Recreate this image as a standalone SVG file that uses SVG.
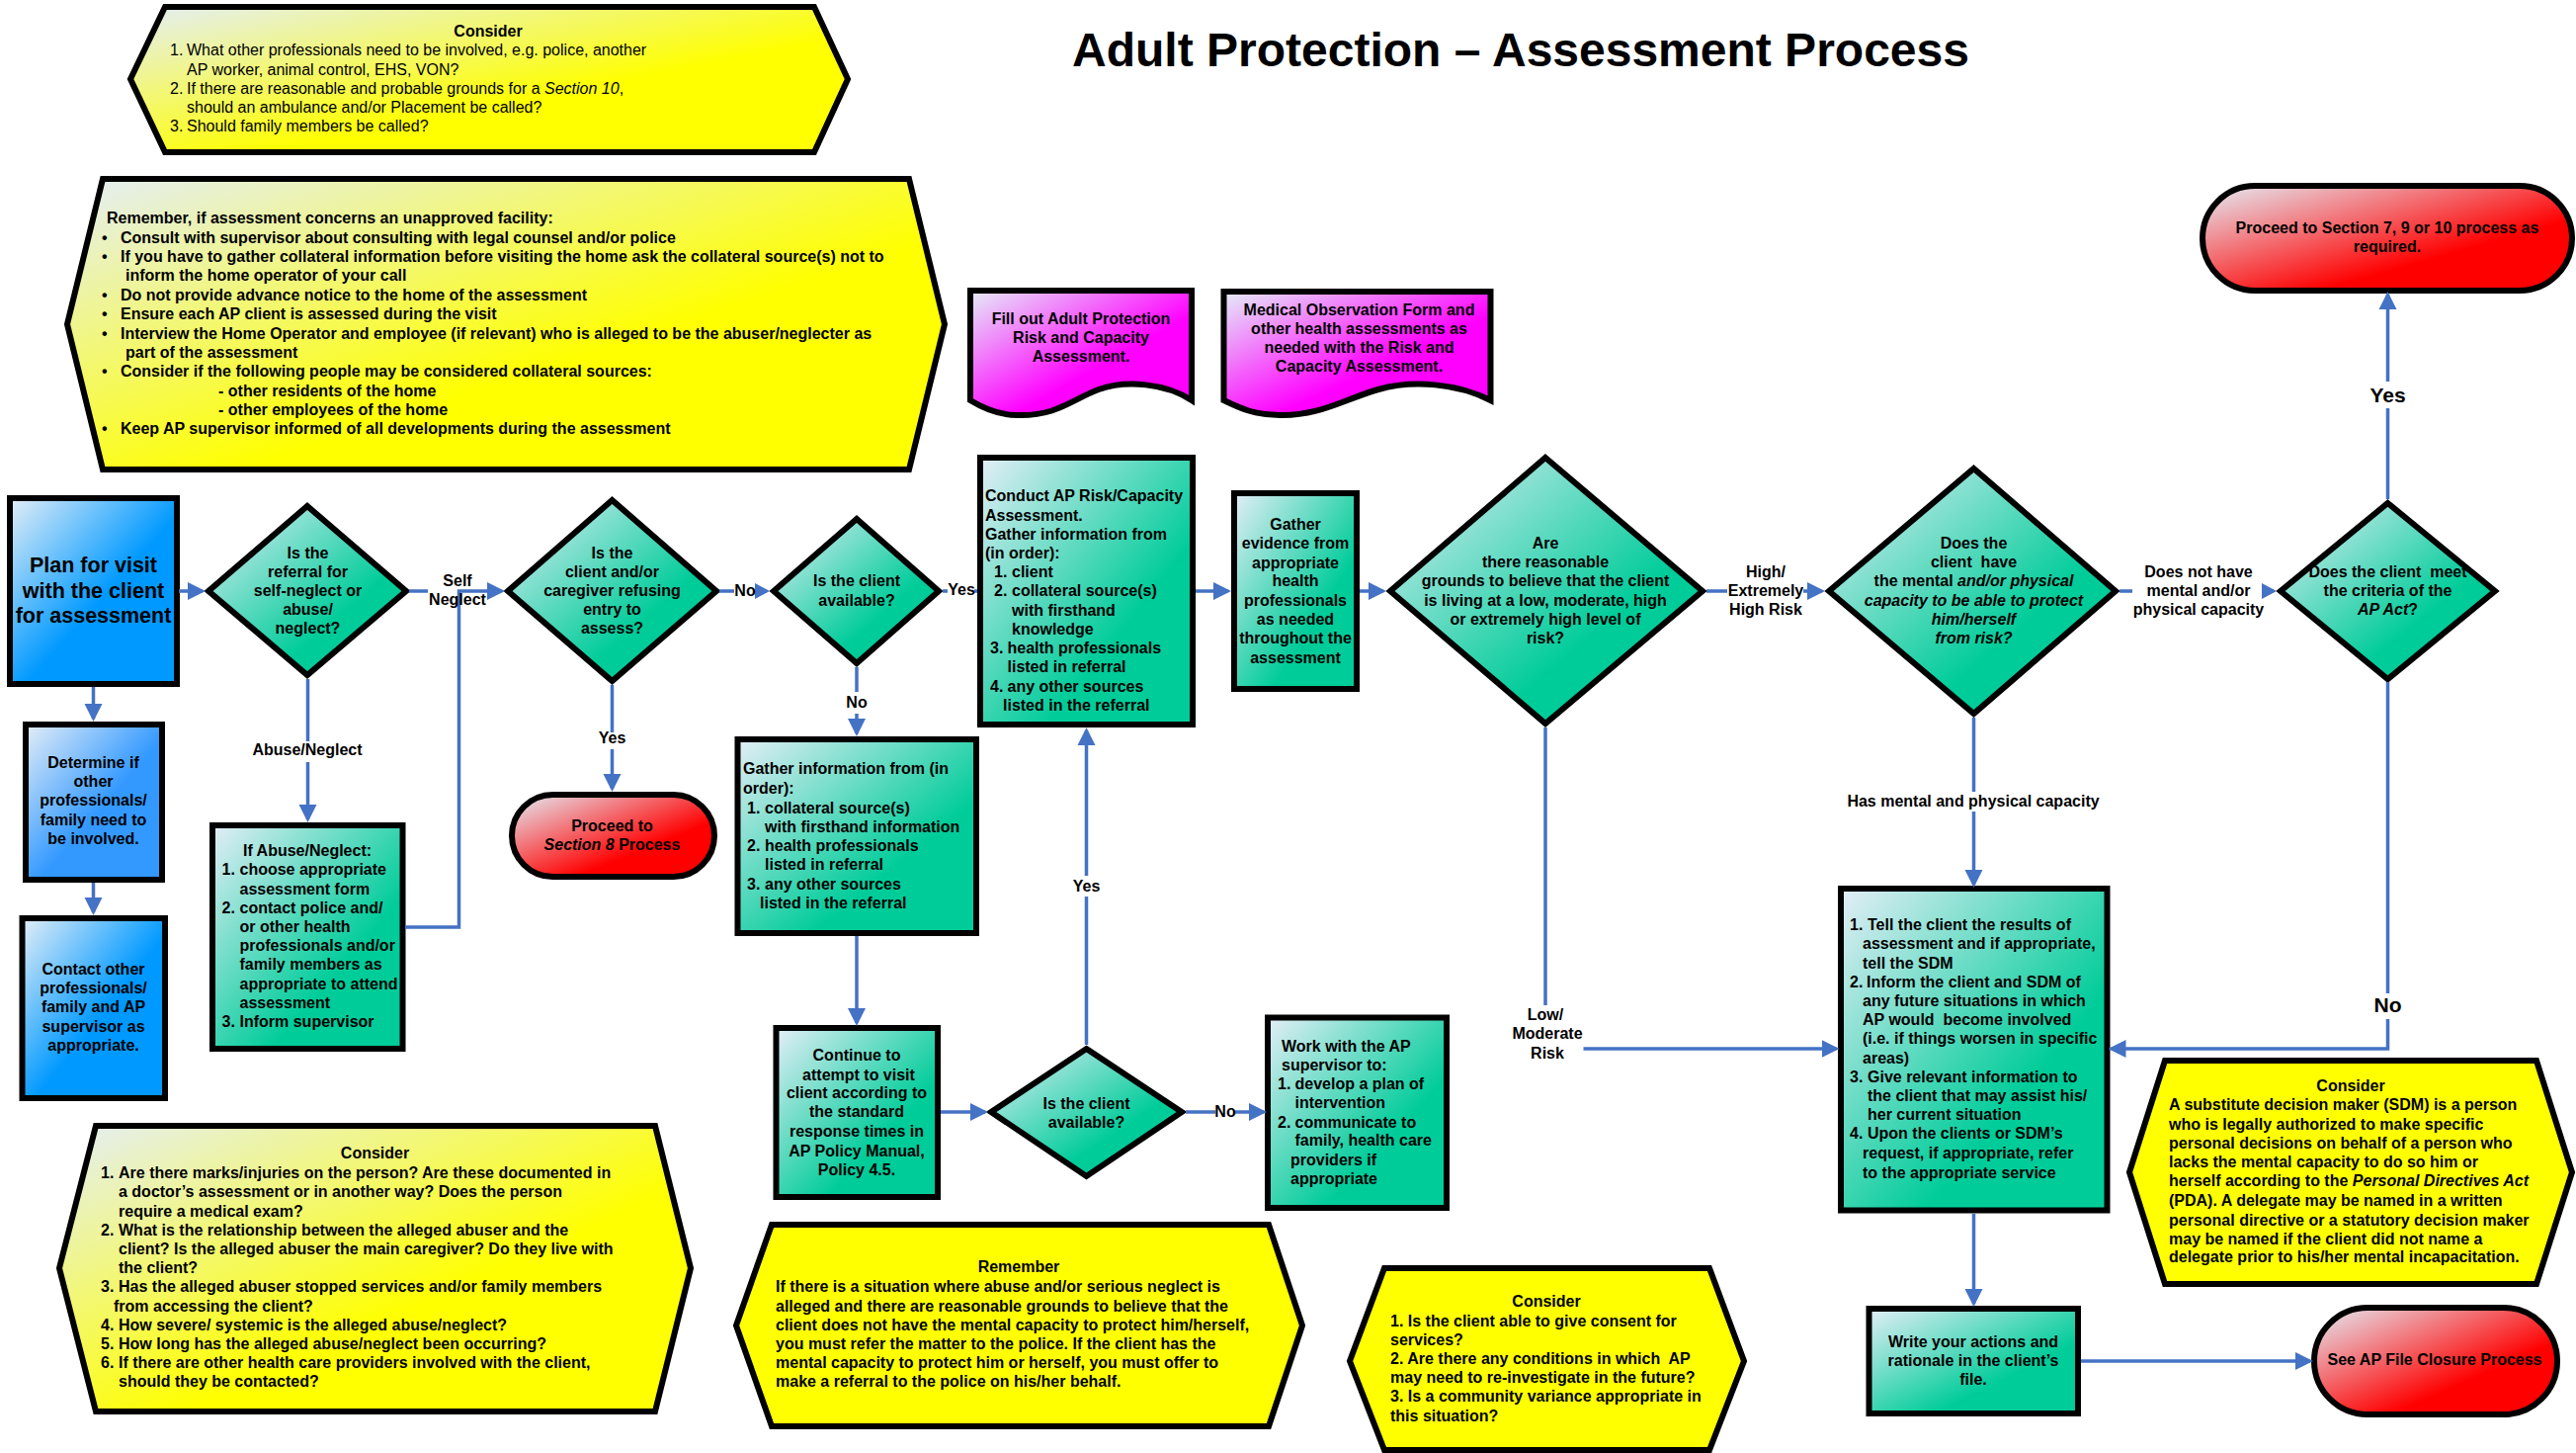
<svg xmlns="http://www.w3.org/2000/svg" width="2607" height="1470" viewBox="0 0 2607 1470">
<style>
text{font-family:"Liberation Sans",Arial,sans-serif;font-size:16px;font-weight:700;fill:#000;white-space:pre}
.c{text-anchor:middle}
.r{font-weight:400}
.b{font-weight:700}
.i{font-style:italic}
.big{font-size:21px}
.plan{font-size:21.5px}
.title{font-size:48px}
.s{stroke:#000;stroke-width:6;stroke-linejoin:miter}
.con{fill:none;stroke:#4472C4;stroke-width:3.5}
.a{marker-end:url(#arrow)}
.a2{marker-end:url(#arrowS)}
</style>
<defs>
<marker id="arrow" markerUnits="userSpaceOnUse" markerWidth="18" markerHeight="20" refX="15" refY="10" orient="auto"><path d="M0,1 L18,10 L0,19 Z" fill="#4472C4"/></marker>
<marker id="arrowS" markerUnits="userSpaceOnUse" markerWidth="15" markerHeight="18" refX="12" refY="9" orient="auto"><path d="M0,1 L15,9 L0,17 Z" fill="#4472C4"/></marker>
<linearGradient id="gT" x1="0" y1="0" x2="1" y2="1"><stop offset="0" stop-color="#E4EEF7"/><stop offset="0.66" stop-color="#00CC99"/></linearGradient>
<linearGradient id="gB" x1="0" y1="0" x2="1" y2="1"><stop offset="0" stop-color="#E4EEF7"/><stop offset="0.55" stop-color="#0099FF"/></linearGradient>
<linearGradient id="gB2" x1="0" y1="0" x2="1" y2="1"><stop offset="0" stop-color="#E4EEF7"/><stop offset="0.55" stop-color="#3399FF"/></linearGradient>
<linearGradient id="gR" x1="0" y1="0" x2="1" y2="1"><stop offset="0" stop-color="#E4EEF7"/><stop offset="0.66" stop-color="#FF0000"/></linearGradient>
<linearGradient id="gM" x1="0" y1="0" x2="1" y2="1"><stop offset="0" stop-color="#E4EEF7"/><stop offset="0.6" stop-color="#FF00FF"/></linearGradient>
<linearGradient id="gY" x1="0" y1="0" x2="1" y2="1"><stop offset="0" stop-color="#E4EEF7"/><stop offset="0.6" stop-color="#FFFF00"/></linearGradient>
</defs>
<rect width="2607" height="1470" fill="#fff"/>
<text id="title" class="c title" x="1539" y="67">Adult Protection – Assessment Process</text>

<g id="hex-consider-top">
<polygon class="s" fill="url(#gY)" points="167,7 824,7 858,80 824,154 167,154 132,80"/>
<text class="c" x="494" y="37">Consider</text>
<text class="r"><tspan x="172" y="56">1.</tspan><tspan x="189" y="56">What other professionals need to be involved, e.g. police, another</tspan><tspan x="189" y="76">AP worker, animal control, EHS, VON?</tspan><tspan x="172" y="95">2.</tspan><tspan x="189" y="95">If there are reasonable and probable grounds for a <tspan class="i">Section 10</tspan>,</tspan><tspan x="189" y="114">should an ambulance and/or Placement be called?</tspan><tspan x="172" y="133">3.</tspan><tspan x="189" y="133">Should family members be called?</tspan></text>
</g>

<g id="hex-remember-facility">
<polygon class="s" fill="url(#gY)" points="104,181 920,181 956,328 920,475 104,475 68,328"/>
<text><tspan x="108" y="226">Remember, if assessment concerns an unapproved facility:</tspan><tspan x="103" y="246">•</tspan><tspan x="122" y="246">Consult with supervisor about consulting with legal counsel and/or police</tspan><tspan x="103" y="265">•</tspan><tspan x="122" y="265">If you have to gather collateral information before visiting the home ask the collateral source(s) not to</tspan><tspan x="127" y="284">inform the home operator of your call</tspan><tspan x="103" y="304">•</tspan><tspan x="122" y="304">Do not provide advance notice to the home of the assessment</tspan><tspan x="103" y="323">•</tspan><tspan x="122" y="323">Ensure each AP client is assessed during the visit</tspan><tspan x="103" y="343">•</tspan><tspan x="122" y="343">Interview the Home Operator and employee (if relevant) who is alleged to be the abuser/neglecter as</tspan><tspan x="127" y="362">part of the assessment</tspan><tspan x="103" y="381">•</tspan><tspan x="122" y="381">Consider if the following people may be considered collateral sources:</tspan><tspan x="221" y="401">- other residents of the home</tspan><tspan x="221" y="420">- other employees of the home</tspan><tspan x="103" y="439">•</tspan><tspan x="122" y="439">Keep AP supervisor informed of all developments during the assessment</tspan></text>
</g>

<g id="plan">
<rect class="s" fill="url(#gB)" x="10" y="504" width="169" height="188"/>
<text class="c plan"><tspan x="94.5" y="579">Plan for visit</tspan><tspan x="94.5" y="605">with the client</tspan><tspan x="94.5" y="630">for assessment</tspan></text>
</g>
<g id="determine">
<rect class="s" fill="url(#gB2)" x="26" y="733" width="138" height="157"/>
<text class="c"><tspan x="94.5" y="777">Determine if</tspan><tspan x="94.5" y="796">other</tspan><tspan x="94.5" y="815">professionals/</tspan><tspan x="94.5" y="835">family need to</tspan><tspan x="94.5" y="854">be involved.</tspan></text>
</g>
<g id="contact">
<rect class="s" fill="url(#gB)" x="22.5" y="929" width="144.5" height="182"/>
<text class="c"><tspan x="94.5" y="986">Contact other</tspan><tspan x="94.5" y="1005">professionals/</tspan><tspan x="94.5" y="1024">family and AP</tspan><tspan x="94.5" y="1044">supervisor as</tspan><tspan x="94.5" y="1063">appropriate.</tspan></text>
</g>
<g id="d-referral">
<polygon class="s" fill="url(#gT)" points="311,512 411,598 311,683 211,598"/>
<text class="c"><tspan x="311.5" y="565">Is the</tspan><tspan x="311.5" y="584">referral for</tspan><tspan x="311.5" y="603">self-neglect or</tspan><tspan x="311.5" y="622">abuse/</tspan><tspan x="311.5" y="641">neglect?</tspan></text>
</g>
<g id="d-refusing">
<polygon class="s" fill="url(#gT)" points="619.5,506 725,598 619.5,689 514,598"/>
<text class="c"><tspan x="619.5" y="565">Is the</tspan><tspan x="619.5" y="584">client and/or</tspan><tspan x="619.5" y="603">caregiver refusing</tspan><tspan x="619.5" y="622">entry to</tspan><tspan x="619.5" y="641">assess?</tspan></text>
</g>
<g id="abuse">
<rect class="s" fill="url(#gT)" x="215" y="835" width="192.5" height="226"/>
<text><tspan class="c" x="311" y="866">If Abuse/Neglect:</tspan><tspan x="224.5" y="885">1.</tspan><tspan x="242.5" y="885">choose appropriate</tspan><tspan x="242.5" y="905">assessment form</tspan><tspan x="224.5" y="924">2.</tspan><tspan x="242.5" y="924">contact police and/</tspan><tspan x="242.5" y="943">or other health</tspan><tspan x="242.5" y="962">professionals and/or</tspan><tspan x="242.5" y="981">family members as</tspan><tspan x="242.5" y="1001">appropriate to attend</tspan><tspan x="242.5" y="1020">assessment</tspan><tspan x="224.5" y="1039">3.</tspan><tspan x="242.5" y="1039">Inform supervisor</tspan></text>
</g>
<g id="end-section8">
<rect class="s" fill="url(#gR)" x="518" y="804" width="205" height="83" rx="41.5"/>
<text class="c"><tspan x="619.5" y="841">Proceed to</tspan><tspan x="619.5" y="860"><tspan class="i">Section 8</tspan> Process</tspan></text>
</g>
<g id="d-available1">
<polygon class="s" fill="url(#gT)" points="867,525 950,598 867,671 783,598"/>
<text class="c"><tspan x="867" y="593">Is the client</tspan><tspan x="867" y="613">available?</tspan></text>
</g>
<g id="conduct">
<rect class="s" fill="url(#gT)" x="992" y="463" width="215" height="270"/>
<text><tspan x="997" y="507">Conduct AP Risk/Capacity</tspan><tspan x="997" y="527">Assessment.</tspan><tspan x="997" y="546">Gather information from</tspan><tspan x="997" y="565">(in order):</tspan><tspan x="1006" y="584">1.</tspan><tspan x="1024" y="584">client</tspan><tspan x="1006" y="603">2.</tspan><tspan x="1024" y="603">collateral source(s)</tspan><tspan x="1024" y="623">with firsthand</tspan><tspan x="1024" y="642">knowledge</tspan><tspan x="1002" y="661">3.</tspan><tspan x="1019.5" y="661">health professionals</tspan><tspan x="1019.5" y="680">listed in referral</tspan><tspan x="1002" y="700">4.</tspan><tspan x="1019.5" y="700">any other sources</tspan><tspan x="1015" y="719">listed in the referral</tspan></text>
</g>
<g id="gather-evidence">
<rect class="s" fill="url(#gT)" x="1249" y="499" width="124" height="198"/>
<text class="c"><tspan x="1311" y="536">Gather</tspan><tspan x="1311" y="555">evidence from</tspan><tspan x="1311" y="575">appropriate</tspan><tspan x="1311" y="593">health</tspan><tspan x="1311" y="613">professionals</tspan><tspan x="1311" y="632">as needed</tspan><tspan x="1311" y="651">throughout the</tspan><tspan x="1311" y="671">assessment</tspan></text>
</g>
<g id="gather-info">
<rect class="s" fill="url(#gT)" x="746.5" y="748" width="241.5" height="196"/>
<text><tspan x="752" y="783">Gather information from (in</tspan><tspan x="752" y="803">order):</tspan><tspan x="756" y="823">1.</tspan><tspan x="774" y="823">collateral source(s)</tspan><tspan x="774" y="842">with firsthand information</tspan><tspan x="756" y="861">2.</tspan><tspan x="774" y="861">health professionals</tspan><tspan x="774" y="880">listed in referral</tspan><tspan x="756" y="900">3.</tspan><tspan x="774" y="900">any other sources</tspan><tspan x="769" y="919">listed in the referral</tspan></text>
</g>
<g id="continue">
<rect class="s" fill="url(#gT)" x="785.5" y="1040" width="163.5" height="171"/>
<text class="c"><tspan x="867" y="1073">Continue to</tspan><tspan x="869" y="1092.5">attempt to visit</tspan><tspan x="867" y="1111">client according to</tspan><tspan x="867" y="1130">the standard</tspan><tspan x="867" y="1150">response times in</tspan><tspan x="867" y="1170">AP Policy Manual,</tspan><tspan x="867" y="1189">Policy 4.5.</tspan></text>
</g>
<g id="d-available2">
<polygon class="s" fill="url(#gT)" points="1099.5,1061 1196,1125 1099.5,1190 1003,1125"/>
<text class="c"><tspan x="1099.5" y="1122">Is the client</tspan><tspan x="1099.5" y="1141">available?</tspan></text>
</g>
<g id="work">
<rect class="s" fill="url(#gT)" x="1283" y="1029.5" width="181" height="192.5"/>
<text><tspan x="1297" y="1063.5">Work with the AP</tspan><tspan x="1297" y="1083">supervisor to:</tspan><tspan x="1293" y="1102">1.</tspan><tspan x="1310.5" y="1102">develop a plan of</tspan><tspan x="1310.5" y="1121">intervention</tspan><tspan x="1293" y="1140.5">2.</tspan><tspan x="1310.5" y="1140.5">communicate to</tspan><tspan x="1310.5" y="1159">family, health care</tspan><tspan x="1306" y="1179">providers if</tspan><tspan x="1306" y="1198">appropriate</tspan></text>
</g>
<g id="doc-fill">
<path class="s" fill="url(#gM)" d="M982,294 H1206 V405 C1180,388 1140,384 1112,394 C1085,404 1070,421 1030,420 C1010,420 995,413 982,405 Z"/>
<text class="c"><tspan x="1094" y="328">Fill out Adult Protection</tspan><tspan x="1094" y="347">Risk and Capacity</tspan><tspan x="1094" y="366">Assessment.</tspan></text>
</g>
<g id="doc-medical">
<path class="s" fill="url(#gM)" d="M1238.5,295 H1508.5 V405 C1475,388 1430,384 1395,394 C1360,404 1335,421 1295,420 C1270,420 1255,413 1238.5,405 Z"/>
<text class="c"><tspan x="1375.5" y="319">Medical Observation Form and</tspan><tspan x="1375.5" y="338">other health assessments as</tspan><tspan x="1375.5" y="357">needed with the Risk and</tspan><tspan x="1375.5" y="376">Capacity Assessment.</tspan></text>
</g>
<g id="d-risk">
<polygon class="s" fill="url(#gT)" points="1564,463 1723,598 1564,732 1407,598"/>
<text class="c"><tspan x="1564" y="555">Are</tspan><tspan x="1564" y="574">there reasonable</tspan><tspan x="1564" y="593">grounds to believe that the client</tspan><tspan x="1564" y="613">is living at a low, moderate, high</tspan><tspan x="1564" y="632">or extremely high level of</tspan><tspan x="1564" y="651">risk?</tspan></text>
</g>
<g id="d-capacity">
<polygon class="s" fill="url(#gT)" points="1997.5,474 2141,598 1997.5,722 1851,598"/>
<text class="c"><tspan x="1997.5" y="555">Does the</tspan><tspan x="1997.5" y="574">client  have</tspan><tspan x="1997.5" y="593">the mental <tspan class="i">and/or physical</tspan></tspan><tspan class="i" x="1997.5" y="613">capacity to be able to protect</tspan><tspan class="i" x="1997.5" y="632">him/herself</tspan><tspan class="i" x="1997.5" y="651">from risk?</tspan></text>
</g>
<g id="d-criteria">
<polygon class="s" fill="url(#gT)" points="2416.5,509 2525,598 2416.5,687 2308,598"/>
<text class="c"><tspan x="2416.5" y="584">Does the client  meet</tspan><tspan x="2416.5" y="603">the criteria of the</tspan><tspan x="2416.5" y="622"><tspan class="i">AP Act</tspan>?</tspan></text>
</g>
<g id="end-section7">
<rect class="s" fill="url(#gR)" x="2229" y="188" width="374" height="106" rx="53"/>
<text class="c"><tspan x="2416" y="235.5">Proceed to Section 7, 9 or 10 process as</tspan><tspan x="2416" y="255">required.</tspan></text>
</g>
<g id="tell-client">
<rect class="s" fill="url(#gT)" x="1863" y="899" width="269.5" height="325.5"/>
<text><tspan x="1872" y="941">1.</tspan><tspan x="1890" y="941">Tell the client the results of</tspan><tspan x="1885" y="960">assessment and if appropriate,</tspan><tspan x="1885" y="979.5">tell the SDM</tspan><tspan x="1872" y="999">2.</tspan><tspan x="1889" y="999">Inform the client and SDM of</tspan><tspan x="1885" y="1018">any future situations in which</tspan><tspan x="1885" y="1037">AP would  become involved</tspan><tspan x="1885" y="1056">(i.e. if things worsen in specific</tspan><tspan x="1885" y="1076">areas)</tspan><tspan x="1872" y="1095">3.</tspan><tspan x="1890" y="1095">Give relevant information to</tspan><tspan x="1890" y="1114">the client that may assist his/</tspan><tspan x="1890" y="1133">her current situation</tspan><tspan x="1872" y="1152">4.</tspan><tspan x="1890" y="1152">Upon the clients or SDM’s</tspan><tspan x="1885" y="1172">request, if appropriate, refer</tspan><tspan x="1885" y="1191.5">to the appropriate service</tspan></text>
</g>
<g id="hex-sdm">
<polygon class="s" fill="#FFFF00" points="2191,1073 2567,1073 2603,1186 2567,1299 2191,1299 2155,1186"/>
<text><tspan class="c" x="2379" y="1104">Consider</tspan><tspan x="2195" y="1123">A substitute decision maker (SDM) is a person</tspan><tspan x="2195" y="1143">who is legally authorized to make specific</tspan><tspan x="2195" y="1162">personal decisions on behalf of a person who</tspan><tspan x="2195" y="1181">lacks the mental capacity to do so him or</tspan><tspan x="2195" y="1200">herself according to the <tspan class="i">Personal Directives Act</tspan></tspan><tspan x="2195" y="1220">(PDA). A delegate may be named in a written</tspan><tspan x="2195" y="1239.5">personal directive or a statutory decision maker</tspan><tspan x="2195" y="1258.5">may be named if the client did not name a</tspan><tspan x="2195" y="1277">delegate prior to his/her mental incapacitation.</tspan></text>
</g>
<g id="write">
<rect class="s" fill="url(#gT)" x="1891.5" y="1324" width="211.5" height="106"/>
<text class="c"><tspan x="1997" y="1363">Write your actions and</tspan><tspan x="1997" y="1382">rationale in the client’s</tspan><tspan x="1997" y="1401">file.</tspan></text>
</g>
<g id="end-closure">
<rect class="s" fill="url(#gR)" x="2342" y="1323" width="246" height="108" rx="54"/>
<text class="c" x="2464" y="1381">See AP File Closure Process</text>
</g>
<g id="hex-consider-left">
<polygon class="s" fill="url(#gY)" points="97,1139 663,1139 699,1283 663,1428 97,1428 60,1283"/>
<text><tspan class="c" x="379.5" y="1172">Consider</tspan><tspan x="102" y="1192">1.</tspan><tspan x="120" y="1192">Are there marks/injuries on the person? Are these documented in</tspan><tspan x="120" y="1211">a doctor’s assessment or in another way? Does the person</tspan><tspan x="120" y="1231">require a medical exam?</tspan><tspan x="102" y="1250">2.</tspan><tspan x="120" y="1250">What is the relationship between the alleged abuser and the</tspan><tspan x="120" y="1269">client? Is the alleged abuser the main caregiver? Do they live with</tspan><tspan x="120" y="1288">the client?</tspan><tspan x="102" y="1307">3.</tspan><tspan x="120" y="1307">Has the alleged abuser stopped services and/or family members</tspan><tspan x="115" y="1327">from accessing the client?</tspan><tspan x="102" y="1346">4.</tspan><tspan x="120" y="1346">How severe/ systemic is the alleged abuse/neglect?</tspan><tspan x="102" y="1365">5.</tspan><tspan x="120" y="1365">How long has the alleged abuse/neglect been occurring?</tspan><tspan x="102" y="1384">6.</tspan><tspan x="120" y="1384">If there are other health care providers involved with the client,</tspan><tspan x="120" y="1403">should they be contacted?</tspan></text>
</g>
<g id="hex-remember-police">
<polygon class="s" fill="#FFFF00" points="781,1239 1284,1239 1318,1341 1284,1443 781,1443 745,1341"/>
<text><tspan class="c" x="1031" y="1287">Remember</tspan><tspan x="785" y="1307">If there is a situation where abuse and/or serious neglect is</tspan><tspan x="785" y="1327">alleged and there are reasonable grounds to believe that the</tspan><tspan x="785" y="1346">client does not have the mental capacity to protect him/herself,</tspan><tspan x="785" y="1365">you must refer the matter to the police. If the client has the</tspan><tspan x="785" y="1384">mental capacity to protect him or herself, you must offer to</tspan><tspan x="785" y="1403">make a referral to the police on his/her behalf.</tspan></text>
</g>
<g id="hex-consider-consent">
<polygon class="s" fill="#FFFF00" points="1401,1283 1730,1283 1765,1377 1730,1467 1401,1467 1366,1377"/>
<text><tspan class="c" x="1565" y="1322">Consider</tspan><tspan x="1407" y="1342">1. Is the client able to give consent for</tspan><tspan x="1407" y="1361">services?</tspan><tspan x="1407" y="1380">2. Are there any conditions in which  AP</tspan><tspan x="1407" y="1399">may need to re-investigate in the future?</tspan><tspan x="1407" y="1418">3. Is a community variance appropriate in</tspan><tspan x="1407" y="1438">this situation?</tspan></text>
</g>

<g id="connectors">
<path class="con a" d="M181,598 H205"/>
<path class="con a" d="M94.5,695 V727"/>
<path class="con a" d="M94.5,893 V923"/>
<path class="con" d="M414,598 H433"/>
<path class="con a" d="M410,938 H464.5 V598 H508"/>
<path class="con a" d="M311.5,687 V750 M311.5,771 V829"/>
<path class="con a" d="M619.5,693 V741 M619.5,758 V798"/>
<path class="con a2" d="M728,598 H743 M764,598 H776"/>
<path class="con" d="M954,598 H959 M986,598 H989"/>
<path class="con a" d="M867,675 V700 M867,722 V742"/>
<path class="con a" d="M867,947 V1035"/>
<path class="con a" d="M952,1125 H997"/>
<path class="con a" d="M1099.5,1057 V907 M1099.5,886 V739"/>
<path class="con a" d="M1200,1125 H1230 M1250,1125 H1279"/>
<path class="con a" d="M1210,598 H1243"/>
<path class="con a" d="M1376,598 H1400"/>
<path class="con a" d="M1727,598 H1748 M1825,598 H1844"/>
<path class="con" d="M1564,736 V1017"/>
<path class="con a" d="M1602.5,1061 H1858.5"/>
<path class="con a2" d="M2145,598 H2158 M2292,598 H2301"/>
<path class="con a" d="M1997.5,726 V801 M1997.5,821 V895"/>
<path class="con a" d="M2416.5,505 V413 M2416.5,386 V298"/>
<path class="con a" d="M2416.5,690 V1005 M2416.5,1031 V1061 H2136.5"/>
<path class="con a" d="M1997.5,1228 V1319"/>
<path class="con a" d="M2106,1377 H2338"/>
<g id="connector-labels">
<text class="c"><tspan x="463" y="593">Self</tspan><tspan x="463" y="612">Neglect</tspan></text>
<text class="c" x="311" y="764">Abuse/Neglect</text>
<text class="c" x="619.5" y="752">Yes</text>
<text class="c" x="754" y="603">No</text>
<text class="c" x="973" y="602">Yes</text>
<text class="c" x="867" y="716">No</text>
<text class="c" x="1099.5" y="902">Yes</text>
<text class="c" x="1240" y="1130">No</text>
<text class="c"><tspan x="1787" y="584">High/</tspan><tspan x="1787" y="602.5">Extremely</tspan><tspan x="1787" y="622">High Risk</tspan></text>
<text class="c"><tspan x="1564" y="1032">Low/</tspan><tspan x="1566" y="1051">Moderate</tspan><tspan x="1566" y="1071">Risk</tspan></text>
<text class="c"><tspan x="2225" y="584">Does not have</tspan><tspan x="2225" y="603">mental and/or</tspan><tspan x="2225" y="622">physical capacity</tspan></text>
<text class="c" x="1997" y="816">Has mental and physical capacity</text>
<text class="c big" x="2416.5" y="407">Yes</text>
<text class="c big" x="2416.5" y="1024">No</text>
</g>
</g>
</svg>
